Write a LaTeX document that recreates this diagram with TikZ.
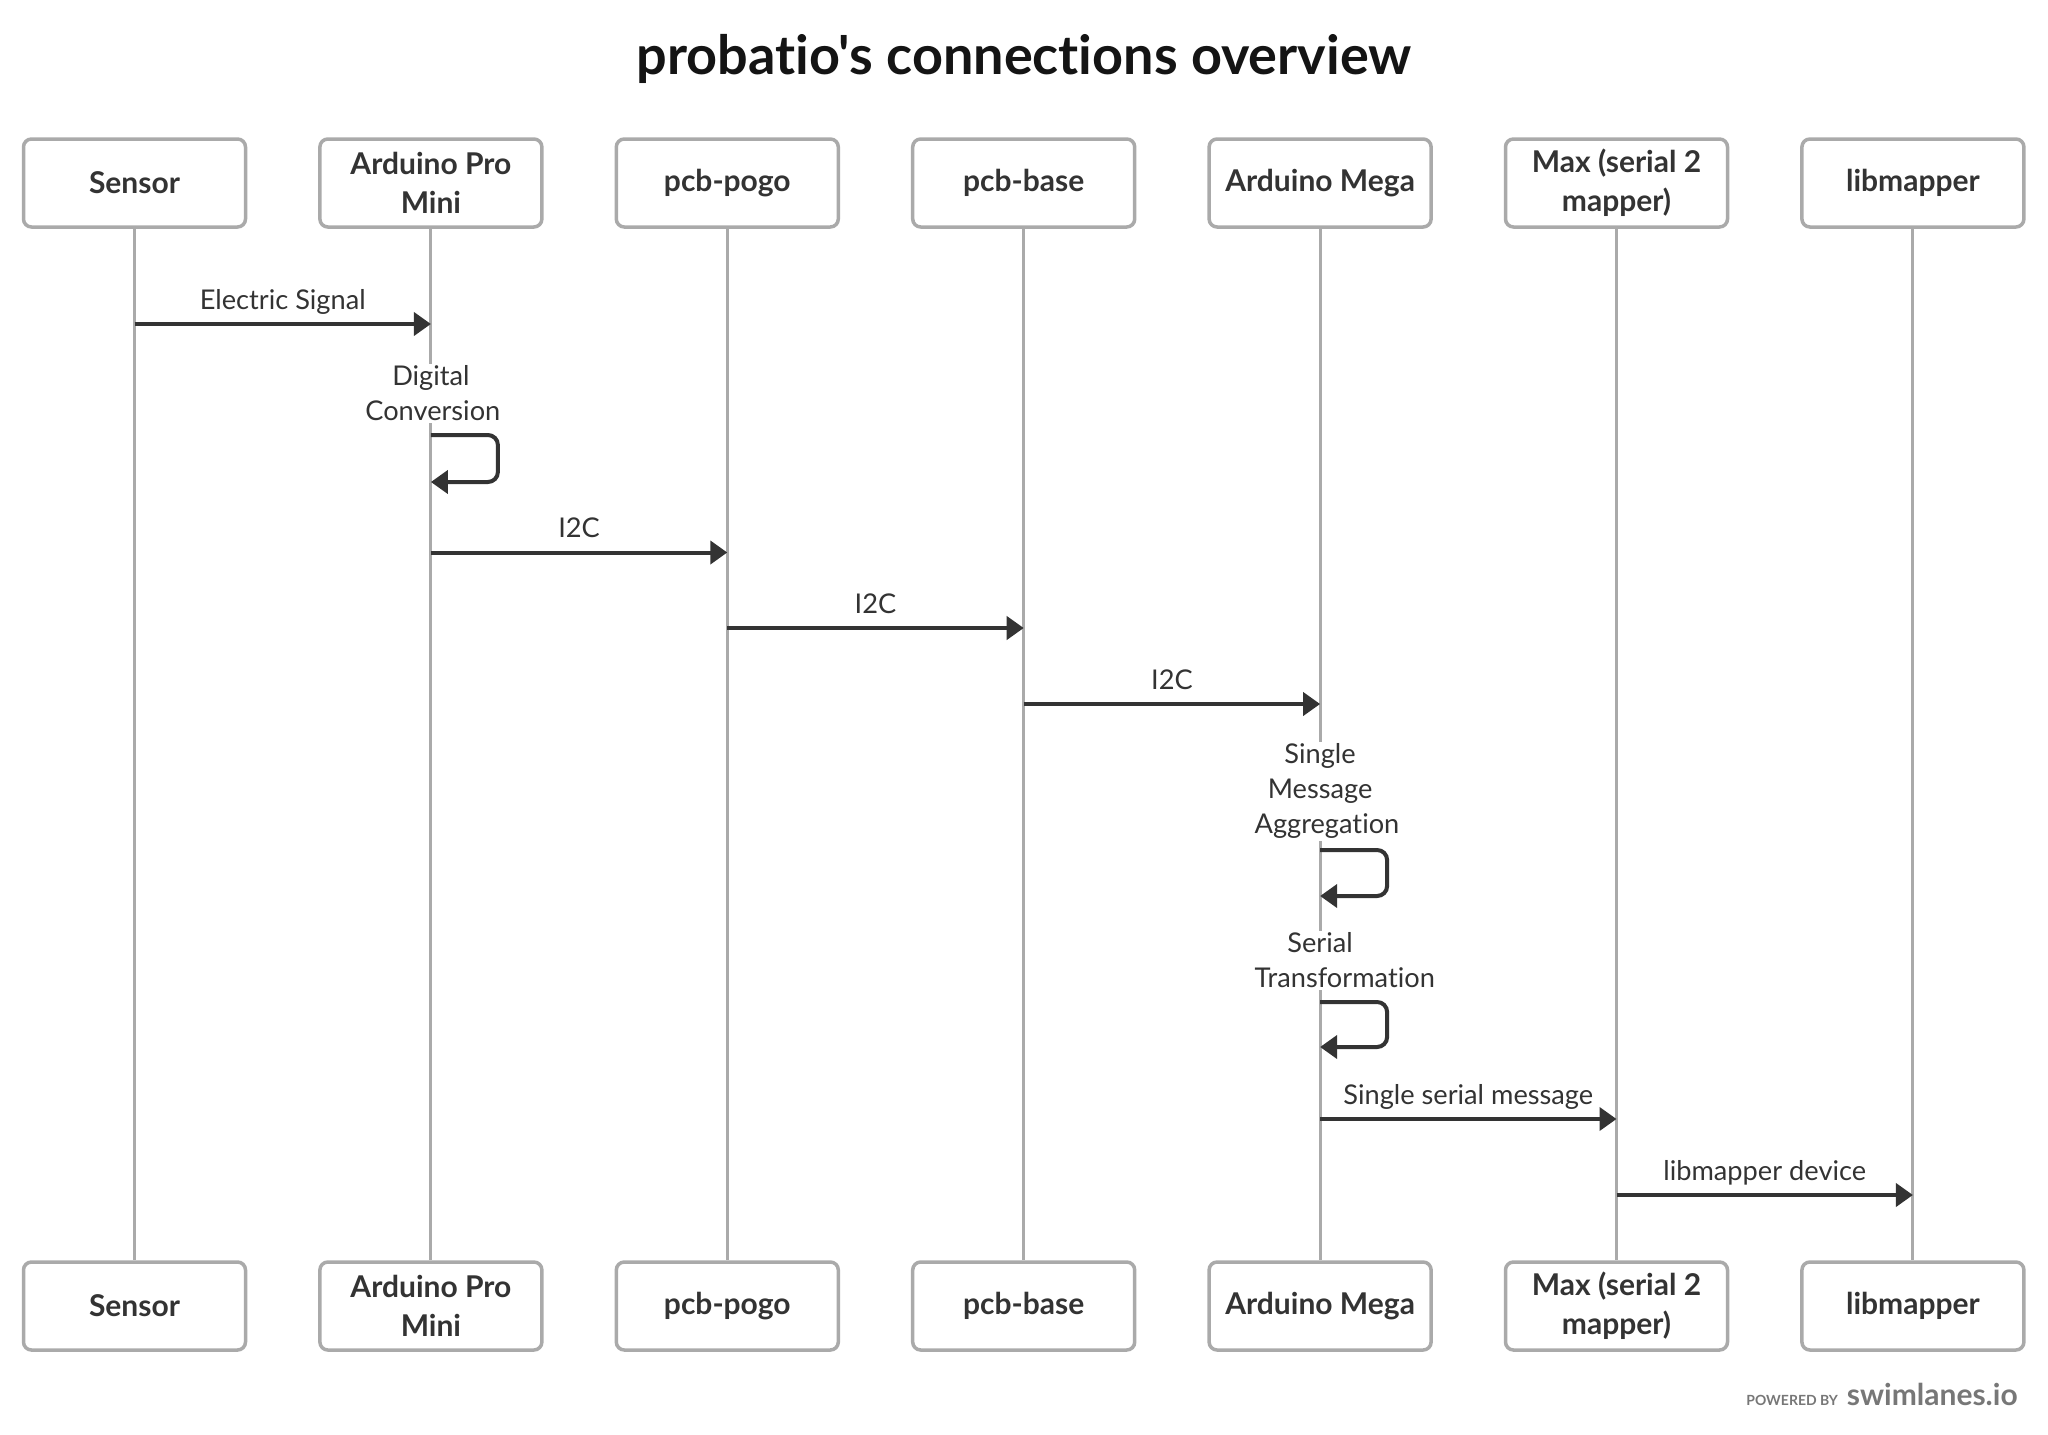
\documentclass[tikz,border=0pt]{standalone}
\usepackage{fontspec}
\setmainfont{Lato}[Ligatures={TeXOff,NoCommon}]
\usepackage{xcolor}
\usetikzlibrary{arrows.meta}
\definecolor{lanegray}{HTML}{AAAAAA}
\definecolor{msgdark}{HTML}{333333}
\definecolor{footgray}{HTML}{777777}
\hyphenpenalty=10000
\exhyphenpenalty=10000

\begin{document}
\begin{tikzpicture}[x=0.5pt,y=-0.5pt]
			\useasboundingbox (0,0) rectangle (2048,1434);
			\node[font=\bfseries\fontsize{27}{32}\selectfont, text=black!92, anchor=base] (title) at (1024,75) {probatio's connections overview};
			% participants, top and bottom
			\begin{scope}[every node/.style={draw=lanegray,line width=1.75pt,rounded corners=4pt,
				minimum width=111pt,minimum height=44pt,inner sep=0pt,align=center,text=msgdark,
				font=\bfseries\fontsize{15}{19.5}\selectfont}]
				\node (sensorT) at (134.5,183) {Sensor};
				\node (miniT) at (430.9,183) {Arduino Pro\\Mini};
				\node (pogoT) at (727.3,183) {pcb-pogo};
				\node (baseT) at (1023.7,183) {pcb-base};
				\node (megaT) at (1320.1,183) {Arduino Mega};
				\node (maxT) at (1616.5,183) {Max (serial 2\\mapper)};
				\node (libT) at (1912.9,183) {libmapper};
				\node (sensorB) at (134.5,1306) {Sensor};
				\node (miniB) at (430.9,1306) {Arduino Pro\\Mini};
				\node (pogoB) at (727.3,1306) {pcb-pogo};
				\node (baseB) at (1023.7,1306) {pcb-base};
				\node (megaB) at (1320.1,1306) {Arduino Mega};
				\node (maxB) at (1616.5,1306) {Max (serial 2\\mapper)};
				\node (libB) at (1912.9,1306) {libmapper};
			\end{scope}
			% lifelines
			\begin{scope}[every path/.style={draw=lanegray,line width=1.5pt}]
				\path (sensorT) -- (sensorB);
				\path (miniT) -- (miniB);
				\path (pogoT) -- (pogoB);
				\path (baseT) -- (baseB);
				\path (megaT) -- (megaB);
				\path (maxT) -- (maxB);
				\path (libT) -- (libB);
			\end{scope}
			% notes on the lifelines
			\begin{scope}[every node/.style={fill=white,text=msgdark,text width=65.5pt,align=center,
				inner xsep=0pt,inner ysep=1pt,font=\fontsize{13.6}{17.5}\selectfont}]
				\node (digital) at (430.9,393.5) {Digital\\Conversion};
				\node (aggreg) at (1320.1,791) {Single\\Message\\Aggregation};
				\node (serialtr) at (1320.1,960.5) {Serial\\Transformation};
			\end{scope}
			% message end points
			\coordinate (sig1) at (134.5,324);
			\coordinate (sig2) at (430.9,324);
			\coordinate (dc1) at (430.9,435);
			\coordinate (dc2) at (430.9,482);
			\coordinate (ia1) at (430.9,552.5);
			\coordinate (ia2) at (727.3,552.5);
			\coordinate (ib1) at (727.3,628);
			\coordinate (ib2) at (1023.7,628);
			\coordinate (ic1) at (1023.7,704);
			\coordinate (ic2) at (1320.1,704);
			\coordinate (ag1) at (1320.1,850);
			\coordinate (ag2) at (1320.1,896);
			\coordinate (st1) at (1320.1,1002);
			\coordinate (st2) at (1320.1,1047);
			\coordinate (sm1) at (1320.1,1119);
			\coordinate (sm2) at (1616.5,1119);
			\coordinate (lm1) at (1616.5,1195);
			\coordinate (lm2) at (1912.9,1195);
			\begin{scope}[>={Triangle[length=8.5pt,width=11.5pt]},
				every edge/.style={draw=msgdark,line width=2pt},
				every node/.style={text=msgdark,font=\fontsize{13.6}{17.5}\selectfont,anchor=base,yshift=7.5pt}]
				\path [->] (sig1) edge node {Electric Signal} (sig2);
				\path [->] (ia1) edge node {I2C} (ia2);
				\path [->] (ib1) edge node {I2C} (ib2);
				\path [->] (ic1) edge node {I2C} (ic2);
				\path [->] (sm1) edge node {Single serial message} (sm2);
				\path [->] (lm1) edge node {libmapper device} (lm2);
			\end{scope}
			\begin{scope}[>={Triangle[length=8.5pt,width=11.5pt]},
				every path/.style={draw=msgdark,line width=2pt,rounded corners=5pt}]
				\path [->] (dc1) -- ++(67,0) |- (dc2);
				\path [->] (ag1) -- ++(67,0) |- (ag2);
				\path [->] (st1) -- ++(67,0) |- (st2);
			\end{scope}
			\node[anchor=base east,inner sep=0pt,text=footgray,font=\bfseries\fontsize{15}{18}\selectfont] (brand) at (2018,1405) {swimlanes.io};
			\node[anchor=base east,inner sep=0pt,text=footgray,font=\bfseries\fontsize{7}{9}\selectfont] (powered) at ([xshift=-4pt]brand.base west) {POWERED BY};
		\end{tikzpicture}
\end{document}
